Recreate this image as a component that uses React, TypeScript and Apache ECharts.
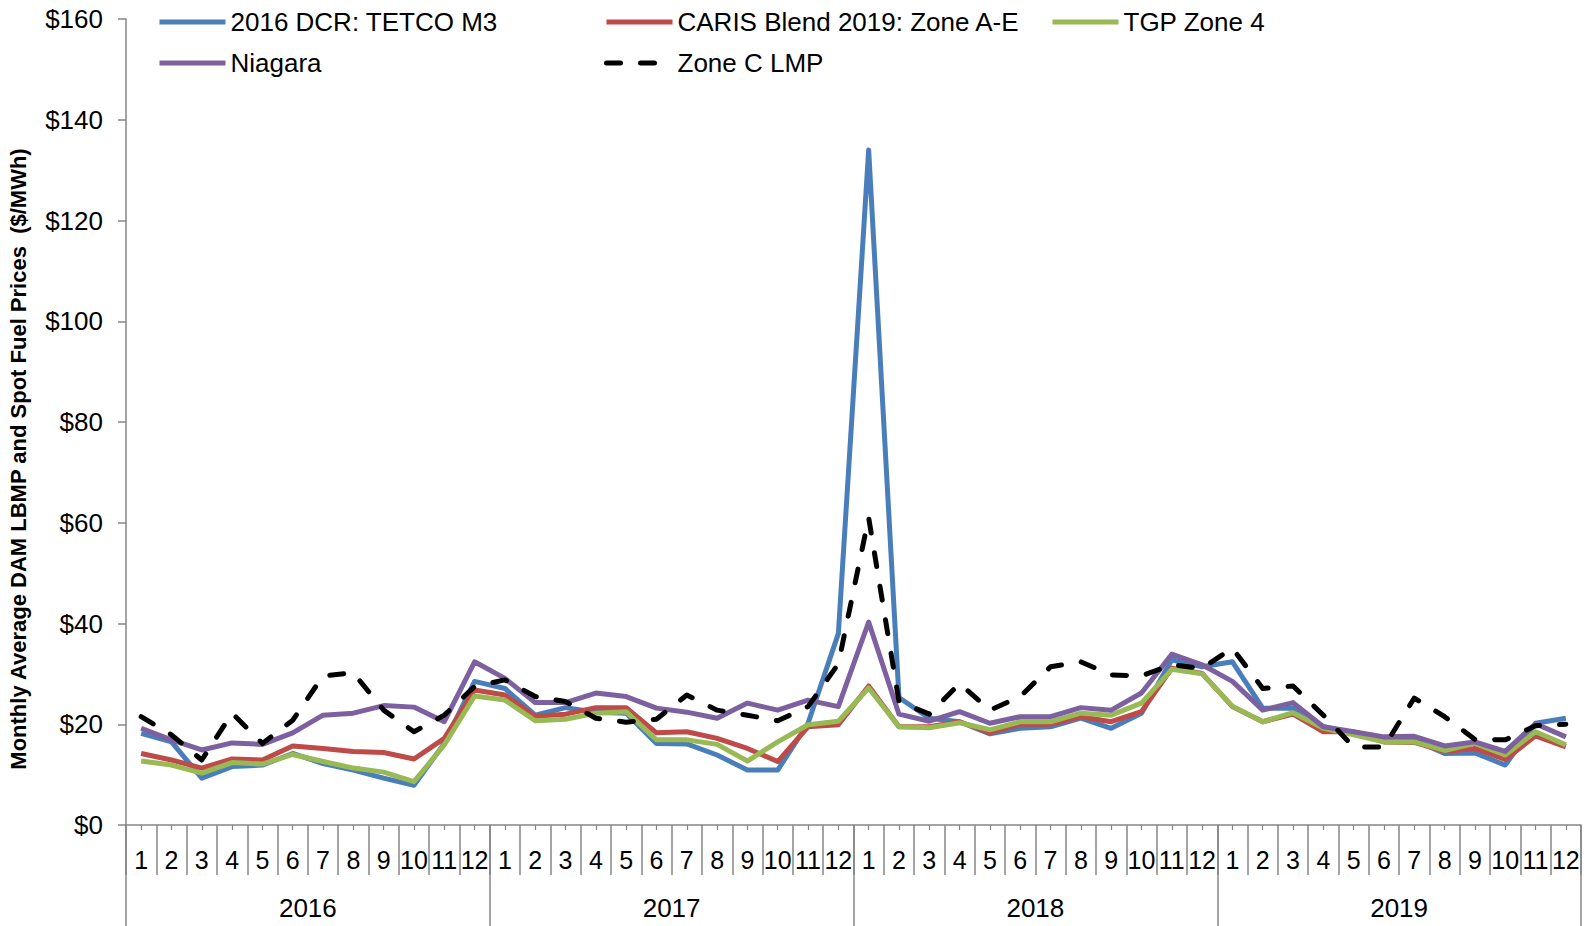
import React, { useEffect, useRef } from "react";
import * as echarts from "echarts";

// Category levels: months within years
const years = ["2016", "2017", "2018", "2019"];
const months = ["1", "2", "3", "4", "5", "6", "7", "8", "9", "10", "11", "12"];
const categories = years.flatMap((y) => months.map((m) => `${y}-${m}`));

// Value axis ticks ($/MWh)
const yTicks = { min: 0, max: 160, interval: 20 };

// Monthly average prices ($/MWh), Jan 2016 – Dec 2019
const tetcoM3 = [
  18.2, 16.5, 9.3, 11.6, 11.9, 14.2, 12.2, 10.9, 9.3, 7.9, 16.2, 28.5,
  27.1, 21.8, 23.3, 22.4, 22.2, 16.2, 16.1, 13.9, 10.9, 10.9, 20.2, 38.0,
  134.0, 25.3, 21.2, 20.5, 18.1, 19.2, 19.5, 21.2, 19.2, 22.2, 32.8, 31.4,
  32.4, 23.2, 23.2, 19.5, 18.2, 16.9, 16.9, 14.2, 14.3, 11.9, 20.2, 21.2,
];
const carisBlend = [
  14.2, 12.9, 11.3, 13.1, 12.9, 15.7, 15.2, 14.6, 14.4, 13.1, 17.2, 26.8,
  25.8, 21.6, 22.0, 23.3, 23.3, 18.3, 18.5, 17.2, 15.2, 12.6, 19.5, 19.9,
  27.6, 19.5, 19.5, 20.5, 18.3, 20.0, 20.0, 21.5, 20.5, 22.5, 31.1, 30.1,
  23.5, 20.5, 22.0, 18.5, 18.5, 16.5, 16.4, 14.6, 15.2, 13.0, 17.7, 15.5,
];
const tgpZone4 = [
  12.7, 11.9, 10.3, 12.4, 12.1, 14.0, 12.6, 11.3, 10.5, 8.6, 15.9, 25.6,
  24.8, 20.7, 21.0, 22.2, 22.5, 16.9, 16.9, 16.0, 12.7, 16.5, 19.9, 20.6,
  27.2, 19.5, 19.3, 20.3, 18.9, 20.5, 20.5, 22.2, 21.8, 24.2, 30.9, 30.0,
  23.6, 20.5, 22.3, 19.2, 17.9, 16.5, 16.5, 14.8, 16.2, 13.9, 18.5, 15.9,
];
const niagara = [
  19.2, 16.9, 14.9, 16.3, 16.0, 18.3, 21.8, 22.2, 23.7, 23.4, 20.5, 32.4,
  29.1, 24.3, 24.3, 26.2, 25.5, 23.2, 22.4, 21.2, 24.2, 22.8, 24.8, 23.5,
  40.3, 22.0, 20.6, 22.5, 20.2, 21.5, 21.5, 23.3, 22.8, 26.2, 33.9, 31.8,
  28.5, 22.8, 24.3, 19.5, 18.5, 17.5, 17.6, 15.7, 16.5, 14.6, 20.1, 17.5,
];
const zoneCLmp = [
  21.5, 17.9, 12.9, 22.2, 16.2, 20.8, 29.6, 30.2, 22.8, 18.5, 21.8, 27.5,
  28.8, 25.5, 24.5, 21.2, 20.4, 21.0, 25.8, 22.8, 21.8, 20.7, 23.5, 32.0,
  61.0, 24.5, 22.0, 28.1, 22.8, 25.5, 31.4, 32.4, 29.8, 29.6, 31.8, 31.1,
  35.1, 27.1, 27.6, 21.8, 15.5, 15.5, 25.2, 21.5, 17.0, 16.9, 19.7, 20.0,
];

const seriesDefs = [
  { name: "2016 DCR: TETCO M3", data: tetcoM3, color: "#4A7EBB", dashed: false },
  { name: "CARIS Blend 2019: Zone A-E", data: carisBlend, color: "#BE4B48", dashed: false },
  { name: "TGP Zone 4", data: tgpZone4, color: "#98B954", dashed: false },
  { name: "Niagara", data: niagara, color: "#7D60A0", dashed: false },
  { name: "Zone C LMP", data: zoneCLmp, color: "#000000", dashed: true },
];

// Legend slots: [left, centerY]
const legendSlots: [number, number][] = [
  [157, 22],
  [604, 22],
  [1050, 22],
  [157, 63],
  [604, 63],
];

const FONT = "'Liberation Sans', Arial, Helvetica, sans-serif";
const AXIS_GRAY = "#868686";
const LINE_W = 5;

export default function App() {
  const ref = useRef<HTMLDivElement>(null);

  useEffect(() => {
    document.body.style.margin = "0";
    if (!ref.current) return;
    const chart = echarts.init(ref.current, undefined, { renderer: "svg" });

    const option: any = {
      animation: false,
      backgroundColor: "#ffffff",
      textStyle: { fontFamily: FONT, color: "#000" },
      grid: {
        left: 126,
        right: 10,
        top: 19,
        bottom: 101,
        containLabel: false,
        outerBoundsMode: "none",
      },
      legend: seriesDefs.map((s, i) => ({
        data: [s.name],
        left: legendSlots[i][0],
        top: legendSlots[i][1] - 13,
        padding: 0,
        itemWidth: 66,
        itemHeight: 14,
        itemGap: 5,
        selectedMode: false,
        itemStyle: { opacity: 0 },
        lineStyle: { width: LINE_W },
        textStyle: { fontFamily: FONT, fontSize: 26, lineHeight: 26, color: "#000" },
      })),
      xAxis: [
        {
          // month labels with separators between categories
          type: "category",
          position: "bottom",
          offset: 0,
          data: categories,
          boundaryGap: true,
          axisLine: { show: true, lineStyle: { color: AXIS_GRAY, width: 1.5 } },
          axisTick: { show: true, length: 50, interval: 0, lineStyle: { color: AXIS_GRAY, width: 1.5 } },
          axisLabel: {
            interval: 0,
            margin: 22,
            fontFamily: FONT,
            fontSize: 25,
            color: "#000",
            formatter: (v: string) => v.split("-")[1],
          },
          splitLine: { show: false },
        },
        {
          // short tick marks at each month
          type: "category",
          position: "bottom",
          offset: 0,
          data: categories,
          boundaryGap: true,
          axisLine: { show: false },
          axisTick: { show: true, alignWithLabel: true, interval: 0, length: 5, lineStyle: { color: AXIS_GRAY, width: 1.2 } },
          axisLabel: { show: false },
          splitLine: { show: false },
        },
        {
          // year labels with long separators
          type: "category",
          position: "bottom",
          offset: 0,
          data: years,
          boundaryGap: true,
          axisLine: { show: false },
          axisTick: { show: true, length: 101, interval: 0, lineStyle: { color: AXIS_GRAY, width: 1.5 } },
          axisLabel: { margin: 70, fontFamily: FONT, fontSize: 26, color: "#000" },
          splitLine: { show: false },
        },
      ],
      yAxis: {
        type: "value",
        min: yTicks.min,
        max: yTicks.max,
        interval: yTicks.interval,
        axisLine: { show: true, lineStyle: { color: AXIS_GRAY, width: 1.5 } },
        axisTick: { show: true, inside: false, length: 8, lineStyle: { color: AXIS_GRAY, width: 1.5 } },
        axisLabel: {
          margin: 23,
          fontFamily: FONT,
          fontSize: 26,
          color: "#000",
          formatter: (v: number) => "$" + v,
        },
        splitLine: { show: false },
      },
      graphic: [
        {
          type: "text",
          x: 18,
          y: 459,
          rotation: Math.PI / 2,
          style: {
            text: "Monthly Average DAM LBMP and Spot Fuel Prices  ($/MWh)",
            fontFamily: FONT,
            fontSize: 22,
            fontWeight: "bold",
            fill: "#000",
            textAlign: "center",
            textVerticalAlign: "middle",
            align: "center",
            verticalAlign: "middle",
          },
        },
      ],
      series: seriesDefs.map((s) => ({
        name: s.name,
        type: "line",
        xAxisIndex: 0,
        data: s.data,
        symbol: "none",
        showSymbol: false,
        color: s.color,
        lineStyle: {
          color: s.color,
          width: LINE_W,
          type: s.dashed ? [14, 20] : "solid",
          cap: s.dashed ? "round" : "butt",
          join: "round",
        },
      })),
    };

    chart.setOption(option);
    return () => chart.dispose();
  }, []);

  return <div ref={ref} style={{ width: 1591, height: 926 }} />;
}
